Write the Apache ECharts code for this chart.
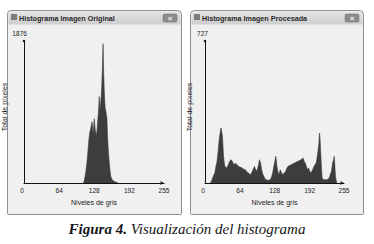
<!DOCTYPE html>
<html>
<head>
<meta charset="utf-8">
<script src="https://cdn.jsdelivr.net/npm/echarts@6/dist/echarts.min.js"></script>
<style>
html, body { margin: 0; padding: 0; background: #fff; }
#chart { width: 374px; height: 244px; }
</style>
</head>
<body>
<div id="chart"></div>
<script>
const windowTitles = ['Histograma Imagen Original', 'Histograma Imagen Procesada'];
const xTicks = [0, 64, 128, 192, 255];
const yMax = [1876, 727];

// original image histogram (gray level -> pixel count)
const origLevels = [108, 109, 110, 111, 112, 113, 114, 115, 116, 117, 118, 119, 120, 121, 122, 123,
  124, 125, 126, 127, 128, 129, 130, 131, 132, 133, 134, 135, 136, 137, 138, 139, 140, 141, 142,
  143, 144, 145, 146, 147, 148, 149, 150, 151, 152, 153, 154, 155, 156, 157, 158, 159, 160, 161,
  162, 163, 164, 165, 166, 167, 168, 169, 170, 171, 172];
const origCounts = [0, 10, 40, 80, 120, 170, 230, 300, 380, 470, 560, 620, 680, 700, 740, 780,
  810, 720, 650, 760, 850, 760, 690, 650, 630, 700, 800, 880, 980, 1140, 1020, 960, 1100, 1180, 1350,
  1560, 1840, 1500, 1250, 1090, 980, 960, 900, 860, 640, 500, 390, 300, 210, 150, 90, 70, 50, 40,
  35, 30, 25, 20, 15, 12, 10, 8, 5, 3, 0];

// processed image histogram
const procLevels = [10, 12, 14, 16, 18, 20, 22, 24, 26, 28, 29, 30, 32, 34, 36, 38, 40, 42, 44, 46,
  48, 50, 52, 54, 56, 58, 60, 62, 64, 66, 68, 70, 72, 74, 76, 78, 80, 82, 84, 86, 88, 90, 91, 92,
  94, 96, 98, 100, 101, 102, 104, 106, 108, 110, 112, 114, 116, 118, 120, 122, 124, 126, 128, 130,
  132, 134, 136, 138, 140, 142, 144, 146, 148, 150, 152, 154, 156, 158, 160, 162, 164, 166, 168,
  170, 172, 174, 176, 178, 180, 182, 184, 186, 188, 190, 192, 194, 196, 198, 200, 202, 204, 206,
  208, 209, 210, 211, 212, 214, 215, 217, 219, 222, 224, 226, 228, 230, 232, 234, 236, 237, 238,
  239, 240, 242];
const procCounts = [0, 10, 26, 40, 51, 85, 110, 160, 222, 262, 282, 275, 239, 137, 90, 80, 77, 90,
  102, 115, 119, 111, 100, 94, 102, 95, 90, 85, 82, 80, 77, 72, 70, 68, 60, 55, 51, 45, 43, 55, 68,
  80, 85, 75, 60, 70, 90, 119, 110, 102, 68, 45, 34, 22, 17, 15, 14, 14, 20, 30, 51, 80, 110, 137,
  85, 55, 43, 68, 55, 43, 48, 51, 60, 75, 85, 88, 90, 94, 96, 100, 102, 105, 108, 111, 113, 116,
  119, 123, 128, 110, 102, 85, 68, 77, 60, 51, 60, 72, 85, 95, 102, 137, 180, 205, 256, 230, 171,
  60, 26, 17, 17, 17, 17, 20, 26, 45, 60, 102, 120, 137, 100, 51, 20, 0];

const zip = (xs, ys) => xs.map((x, i) => [x, ys[i]]);

const frames = [
  {x: 7, w: 174},
  {x: 190, w: 173}
];
const grids = [
  {left: 24, top: 41, width: 140, height: 142},
  {left: 205, top: 41, width: 139, height: 142}
];

const sans = 'Liberation Sans';
const histColor = '#3d3d3d';

let graphics = [];
frames.forEach((f, i) => {
  graphics.push(
    {
      type: 'rect', z: -10,
      shape: {x: f.x + 0.5, y: 10.5, width: f.w, height: 204, r: [4, 4, 1, 1]},
      style: {fill: '#f0f0f0', stroke: '#8e8e8e', lineWidth: 1}
    },
    {
      type: 'rect', z: -9,
      shape: {x: f.x + 1.5, y: 11.5, width: f.w - 2, height: 13, r: [3, 3, 0, 0]},
      style: {
        fill: new echarts.graphic.LinearGradient(0, 0, 0, 1, [
          {offset: 0, color: '#e4e4e4'},
          {offset: 1, color: '#cdcdcd'}
        ])
      }
    },
    {
      type: 'rect', z: -8,
      shape: {x: f.x + 4, y: 14, width: 6, height: 6},
      style: {fill: '#7c7c7c'}
    },
    {
      type: 'text', z: -8,
      style: {
        x: f.x + 12, y: 18, text: windowTitles[i],
        font: 'bold 7.2px "' + sans + '"', fill: '#2a2a2a', verticalAlign: 'middle'
      }
    },
    {
      type: 'rect', z: -8,
      shape: {x: f.x + f.w - 18, y: 14, width: 14, height: 8, r: 1.5},
      style: {fill: '#8c8c8c', stroke: '#6e6e6e', lineWidth: 0.5}
    },
    {
      type: 'text', z: -7,
      style: {
        x: f.x + f.w - 11, y: 18, text: '×', font: 'bold 8px "' + sans + '"',
        fill: '#f4f4f4', align: 'center', verticalAlign: 'middle'
      }
    }
  );
});
graphics.push({
  type: 'text', z: 5,
  style: {
    x: 187, y: 229, align: 'center', verticalAlign: 'middle',
    text: '{b|Figura 4.} {i|Visualización del histograma}',
    font: 'italic 15px "Liberation Serif"',
    fill: '#151520',
    rich: {
      b: {font: 'italic bold 15px "Liberation Serif"', fill: '#151520'},
      i: {font: 'italic 15px "Liberation Serif"', fill: '#151520'}
    }
  }
});

const axisText = {fontFamily: sans, fontSize: 6.6, color: '#222'};

const xAxes = [0, 1].map(i => ({
  gridIndex: i, type: 'value', min: 0, max: 255, z: 5,
  name: 'Niveles de gris', nameLocation: 'middle', nameGap: 14,
  nameTextStyle: {...axisText, fontSize: 7},
  axisLine: {show: true, lineStyle: {color: '#111', width: 1}, symbol: ['none', 'arrow'], symbolSize: [3, 4]},
  axisTick: {show: false},
  splitLine: {show: false},
  axisLabel: {customValues: xTicks, margin: 4, ...axisText, alignMinLabel: 'right'}
}));

const yAxes = [0, 1].map(i => ({
  gridIndex: i, type: 'value', min: 0, max: yMax[i], z: 5,
  name: 'Total de píxeles', nameLocation: 'middle', nameGap: 8, nameRotate: 90,
  nameTextStyle: {...axisText, fontSize: 7, padding: [0, 0, 0, 10]},
  axisLine: {show: true, lineStyle: {color: '#111', width: 1}, symbol: ['none', 'circle'], symbolSize: [2.5, 2.5]},
  axisTick: {show: false},
  splitLine: {show: false},
  axisLabel: {
    customValues: [yMax[i]], margin: -3, align: 'right', verticalAlign: 'bottom',
    padding: [0, 0, 4, 0], formatter: v => String(v), ...axisText
  }
}));

const series = [
  zip(origLevels, origCounts),
  zip(procLevels, procCounts)
].map((d, i) => ({
  type: 'line', xAxisIndex: i, yAxisIndex: i, data: d, z: 2,
  showSymbol: false, symbol: 'none',
  lineStyle: {color: histColor, width: 0.6},
  areaStyle: {color: histColor, opacity: 1}
}));

let myChart = echarts.init(document.getElementById('chart'), null, {renderer: 'svg'});
let option = {
  animation: false,
  backgroundColor: '#fff',
  grid: grids,
  xAxis: xAxes,
  yAxis: yAxes,
  series: series,
  graphic: graphics
};
option && myChart.setOption(option);
</script>
</body>
</html>
